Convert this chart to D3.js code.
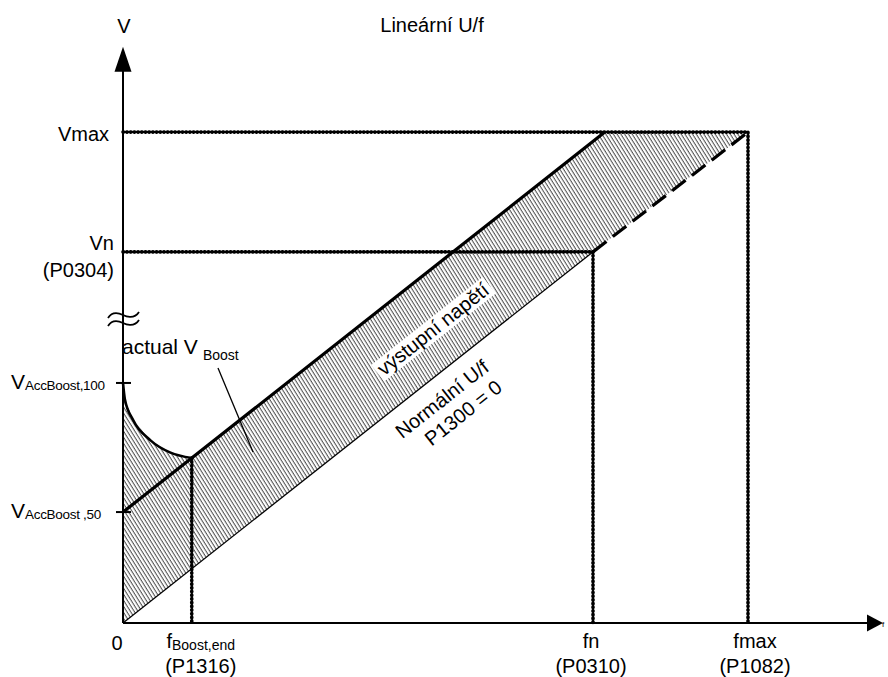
<!DOCTYPE html>
<html><head><meta charset="utf-8">
<script src="https://cdn.jsdelivr.net/npm/d3@7"></script>
<style>body{margin:0;background:#fff}svg{display:block}text{font-family:"Liberation Sans",Arial,sans-serif;fill:#000}</style>
</head><body><svg id="c" width="888" height="677"></svg>
<script>
// ---- data (arbitrary units: fmax = 100, Vmax = 100) ----
const axisMaxF = 121.6, axisMaxV = 117.4;
const fKeys   = ["fBoost", "fn", "fmax"];
const fValues = [11.0, 75.2, 100];
const fMain   = ["f", "fn", "fmax"];
const fSub    = ["Boost,end", "", ""];
const fParams = ["(P1316)", "(P0310)", "(P1082)"];
const vKeys   = ["VAcc50", "VAcc100", "Vn", "Vmax"];
const vValues = [22.6, 48.9, 75.6, 100];
const boostEndV = 33.6;
const upperF = [0, 11.0, 77.1];
const upperV = [22.6, 33.6, 100];
const curveF = [0, 0.3, 1.6, 4.4, 7.6, 11.0];
const curveV = [48.9, 45.6, 41.4, 37.2, 34.7, 33.6];
const normalF = [0, 75.2];
const normalV = [0, 75.6];
const extF = [75.2, 100];
const extV = [75.6, 100];
const title = "Lineární U/f";
const bandLabel = "výstupní napětí";
const normalLabel = ["Normální U/f", "P1300 = 0"];

// ---- scales ----
const svg = d3.select("#c");
const x = d3.scaleLinear().domain([0, axisMaxF]).range([123, 883]);
const y = d3.scaleLinear().domain([0, axisMaxV]).range([623, 46.7]);
const pts = (F, V) => F.map((f, i) => [f, V[i]]);
const line = d3.line().x(d => x(d[0])).y(d => y(d[1]));

// hatch pattern
const defs = svg.append("defs");
const pat = defs.append("pattern").attr("id", "hatch").attr("patternUnits", "userSpaceOnUse")
  .attr("width", 3.2).attr("height", 10).attr("patternTransform", "rotate(-32)");
pat.append("line").attr("x1", 1).attr("y1", -1).attr("x2", 1).attr("y2", 11)
  .attr("stroke", "#000").attr("stroke-width", 0.8);

// hatched region
const vmax = vValues[3], vn = vValues[2], fn = fValues[1], fmax = fValues[2];
const region = [[0, 0]].concat(pts(curveF, curveV), pts(upperF.slice(1), upperV.slice(1)),
  [[fmax, vmax]], [[fn, vn]], [[0, 0]]);
svg.append("path").attr("d", line(region) + "Z").attr("fill", "url(#hatch)").attr("stroke", "none");

// dotted reference lines (thin core + bead dots)
const dotted = d => {
  svg.append("path").attr("d", d).attr("fill", "none").attr("stroke", "#000").attr("stroke-width", 1.6);
  svg.append("path").attr("d", d).attr("fill", "none").attr("stroke", "#000").attr("stroke-width", 3.6)
    .attr("stroke-linecap", "round").attr("stroke-dasharray", "0.6 3.1");
};
dotted(line([[0, vmax], [fmax, vmax], [fmax, 0]]));
dotted(line([[0, vn], [fn, vn], [fn, 0]]));
dotted(line([[fValues[0], boostEndV], [fValues[0], 0]]));

// characteristic lines
svg.append("path").attr("d", line(pts(normalF, normalV))).attr("fill", "none").attr("stroke", "#000").attr("stroke-width", 1.3);
svg.append("path").attr("d", line(pts(extF, extV))).attr("fill", "none").attr("stroke", "#000").attr("stroke-width", 3.2).attr("stroke-dasharray", "17 8");
svg.append("path").attr("d", line(pts(upperF, upperV))).attr("fill", "none").attr("stroke", "#000").attr("stroke-width", 3.2);
svg.append("path").attr("d", d3.line().x(d => x(d[0])).y(d => y(d[1])).curve(d3.curveMonotoneX)(pts(curveF, curveV)))
  .attr("fill", "none").attr("stroke", "#000").attr("stroke-width", 2.6);

// axes
svg.append("line").attr("x1", x(0)).attr("y1", y(0)).attr("x2", x(axisMaxF) - 10).attr("y2", y(0)).attr("stroke", "#000").attr("stroke-width", 2);
svg.append("path").attr("d", `M${x(axisMaxF)},${y(0)}L${x(axisMaxF) - 16},${y(0) - 8.5}L${x(axisMaxF) - 16},${y(0) + 8.5}Z`);
svg.append("line").attr("x1", x(0)).attr("y1", y(0)).attr("x2", x(0)).attr("y2", y(axisMaxV) + 20).attr("stroke", "#000").attr("stroke-width", 2);
svg.append("path").attr("d", `M${x(0)},${y(axisMaxV)}L${x(0) - 8.5},${y(axisMaxV) + 25}L${x(0) + 8.5},${y(axisMaxV) + 25}Z`);

// ticks for boost levels
[vValues[0], vValues[1]].forEach(v => svg.append("line").attr("x1", x(0) - 7).attr("x2", x(0) + 8)
  .attr("y1", y(v)).attr("y2", y(v)).attr("stroke", "#000").attr("stroke-width", 2));

// axis break symbol
const bx = x(0), by = 315;
[0, 8].forEach(o => svg.append("path")
  .attr("d", `M${bx - 15},${by + o + 3} C${bx - 10},${by + o - 5} ${bx - 2},${by + o - 1} ${bx},${by + o} S${bx + 11},${by + o + 5} ${bx + 16},${by + o - 3}`)
  .attr("fill", "none").attr("stroke", "#000").attr("stroke-width", 1.8));

// texts
const T = (xx, yy, s, size, anchor) => svg.append("text").attr("x", xx).attr("y", yy).attr("font-size", size).attr("text-anchor", anchor || "start").text(s);
T(432, 32, title, 20, "middle");
T(x(0) + 1, 33, "V", 20, "middle");
T(109, y(vmax) + 9, "Vmax", 20, "end");
T(114, y(vn) - 2, "Vn", 20, "end");
T(114, y(vn) + 25, "(P0304)", 20, "end");
// V_AccBoost labels
const vAcc = [[vValues[1], "AccBoost,100"], [vValues[0], "AccBoost ,50"]];
vAcc.forEach(([v, sub]) => {
  const t = svg.append("text").attr("x", 11).attr("y", y(v) + 6).attr("font-size", 21);
  t.append("tspan").text("V");
  t.append("tspan").attr("font-size", 13.5).attr("dy", 1).attr("letter-spacing", -0.3).text(sub);
});
T(117, 650, "0", 20, "middle");
fValues.forEach((f, i) => {
  const cx = x(f) + (i === 0 ? 9 : i === 1 ? -2 : 7);
  const t = svg.append("text").attr("x", cx).attr("y", 648).attr("font-size", 20).attr("text-anchor", "middle");
  t.append("tspan").text(fMain[i]);
  if (fSub[i]) t.append("tspan").attr("font-size", 14).attr("dy", 2).text(fSub[i]);
  T(cx, 673, fParams[i], 20, "middle");
});
T(882, 627, "f", 8, "start");

// actual V Boost label with pointer
const ab = svg.append("text").attr("x", 122).attr("y", 354).attr("font-size", 21);
ab.append("tspan").text("actual V");
ab.append("tspan").attr("font-size", 14).attr("dx", 5).attr("dy", 6).text("Boost");
svg.append("line").attr("x1", 218).attr("y1", 368).attr("x2", 253).attr("y2", 452).attr("stroke", "#000").attr("stroke-width", 1.3);

// rotated labels
const ang = -Math.atan((y(upperV[0]) - y(upperV[2])) / (x(upperF[2]) - x(upperF[0]))) * 180 / Math.PI;
const g1 = svg.append("g").attr("transform", `translate(433,329) rotate(${ang})`);
const bt = g1.append("text").attr("font-size", 20).attr("text-anchor", "middle").attr("dy", "0.35em").text(bandLabel);
const bb = bt.node().getBBox();
g1.insert("rect", "text").attr("x", bb.x - 3).attr("y", bb.y + 1).attr("width", bb.width + 6).attr("height", bb.height - 1).attr("fill", "#fff");
const g2 = svg.append("g").attr("transform", `translate(442,399) rotate(${ang})`);
g2.append("text").attr("font-size", 20).attr("text-anchor", "middle").attr("dy", "0.35em").text(normalLabel[0]);
g2.append("text").attr("font-size", 20).attr("text-anchor", "middle").attr("x", 8).attr("dy", "1.55em").text(normalLabel[1]);
</script></body></html>
